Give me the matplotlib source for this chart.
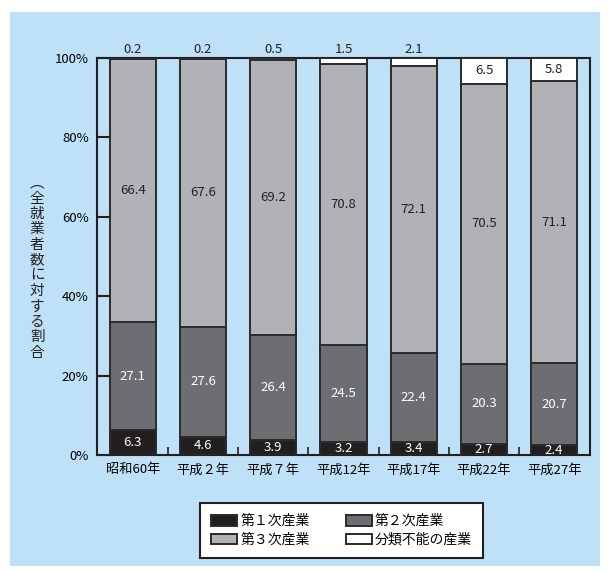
import matplotlib
matplotlib.use("Agg")
import matplotlib.pyplot as plt
from matplotlib.patches import Rectangle
import numpy as np

plt.rcParams['font.family'] = ['Noto Sans CJK JP', 'DejaVu Sans']

years = ["昭和60年", "平成２年", "平成７年", "平成12年", "平成17年", "平成22年", "平成27年"]
primary = [6.3, 4.6, 3.9, 3.2, 3.4, 2.7, 2.4]
secondary = [27.1, 27.6, 26.4, 24.5, 22.4, 20.3, 20.7]
tertiary = [66.4, 67.6, 69.2, 70.8, 72.1, 70.5, 71.1]
unclassified = [0.2, 0.2, 0.5, 1.5, 2.1, 6.5, 5.8]

series_names = ["第１次産業", "第２次産業", "第３次産業", "分類不能の産業"]
colors = ["#231f20", "#6d6e71", "#b1b2b5", "#ffffff"]
text_colors = ["white", "white", "#231f20", "#231f20"]

bg = "#bfe1f7"

fig = plt.figure(figsize=(6.08, 5.72), dpi=100)
fig.patches.append(Rectangle((10 / 608, 1 - 566 / 572), 590 / 608, 554 / 572,
                             transform=fig.transFigure, facecolor=bg,
                             edgecolor="none", zorder=-10))

ax = fig.add_axes([97 / 608, 1 - 455 / 572, 493 / 608, 397 / 572])
ax.set_facecolor(bg)

x = np.arange(len(years))
width = 0.66
bottom = np.zeros(len(years))
handles = []
for vals, name, c, tc in zip([primary, secondary, tertiary, unclassified],
                             series_names, colors, text_colors):
    vals = np.array(vals)
    bars = ax.bar(x, vals, width, bottom=bottom, color=c, edgecolor="#2b2b2b",
                  linewidth=1.4, label=name, zorder=3)
    handles.append(bars)
    for i, (v, b) in enumerate(zip(vals, bottom)):
        if name == "分類不能の産業" and v < 3:
            ax.text(x[i], 100.6, f"{v:.1f}", ha="center", va="bottom",
                    fontsize=9.5, color="#231f20")
        else:
            ax.text(x[i], b + v / 2, f"{v:.1f}", ha="center", va="center",
                    fontsize=9.5, color=tc, zorder=4)
    bottom = bottom + vals

ax.set_xlim(-0.51, len(years) - 0.49)
ax.set_ylim(0, 100)
ax.set_yticks(np.arange(0, 101, 20))
ax.set_yticklabels([f"{v}%" for v in range(0, 101, 20)], fontsize=9.5)
ax.tick_params(axis="y", direction="in", length=12, width=1.5, color="#231f20", pad=6)
ax.set_xticks(x)
ax.set_xticklabels(years, fontsize=9.5)
ax.tick_params(axis="x", length=0, pad=6)
# short separator ticks between the categories
ax.set_xticks(x[:-1] + 0.5, minor=True)
ax.tick_params(axis="x", which="minor", direction="in", length=6, width=1.2, color="#231f20")
for s in ax.spines.values():
    s.set_color("#231f20")
    s.set_linewidth(1.5)

ylabel = "︵全就業者数に対する割合"
fig.text(37 / 608, 1 - 268 / 572, "\n".join(ylabel), ha="center", va="center",
         fontsize=10.5, linespacing=1.13, color="#231f20")

order = [0, 2, 1, 3]
leg = fig.legend([handles[i] for i in order], [series_names[i] for i in order],
                 ncol=2, loc="center", bbox_to_anchor=(341.5 / 608, 1 - 530.5 / 572),
                 fontsize=10, frameon=True, fancybox=False, edgecolor="#231f20",
                 handlelength=1.9, handleheight=0.8, columnspacing=2.6,
                 labelspacing=0.35, borderpad=0.8, handletextpad=0.2,
                 borderaxespad=0)
leg.get_frame().set_linewidth(1.5)
leg.get_frame().set_facecolor("white")
leg.get_frame().set_alpha(None)

fig.savefig("out.png", dpi=100)
